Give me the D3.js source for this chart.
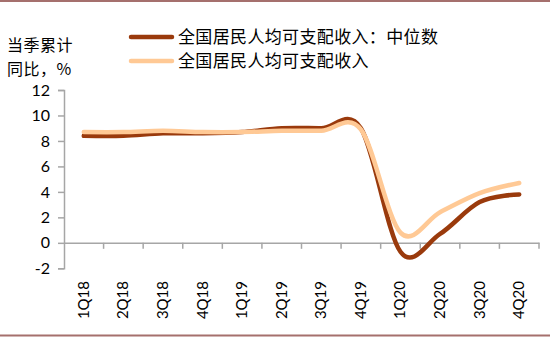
<!DOCTYPE html>
<html><head><meta charset="utf-8">
<script src="https://cdn.jsdelivr.net/npm/d3@7/dist/d3.min.js"></script>
<style>html,body{margin:0;padding:0;background:#fff;}svg{display:block;}</style>
</head><body>
<svg id="c" width="550" height="337"></svg>
<script>
const categories = ["1Q18","2Q18","3Q18","4Q18","1Q19","2Q19","3Q19","4Q19","1Q20","2Q20","3Q20","4Q20"];
const medianIncome = [8.4, 8.4, 8.6, 8.6, 8.7, 9.0, 9.0, 9.0, -0.7, 0.7, 3.2, 3.8];
const meanIncome   = [8.7, 8.7, 8.8, 8.7, 8.7, 8.8, 8.8, 8.9, 0.8, 2.4, 3.9, 4.7];
const yTicks = [-2, 0, 2, 4, 6, 8, 10, 12];
const seriesNames = ["全国居民人均可支配收入：中位数", "全国居民人均可支配收入"];
const seriesColors = ["#9a3a0c", "#ffc995"];
const yTitle = ["当季累计", "同比，%"];

(function(){
const svg = d3.select("#c");
const L = 64, R = 539, T = 90, B = 268.3;
const x = d3.scaleBand().domain(categories).range([L, R]).padding(0);
const y = d3.scaleLinear().domain([-2, 12]).range([B, T]);
const axisColor = "#a6a6a6";
const numFont = "Lato, 'Open Sans', sans-serif";
const cjkFont = "'Noto Sans CJK SC', sans-serif";

// borders
svg.append("rect").attr("x",0).attr("y",0).attr("width",550).attr("height",2).attr("fill","#a5706d");
svg.append("rect").attr("x",0).attr("y",334.5).attr("width",550).attr("height",2).attr("fill","#a5706d");

// y axis
const yAxis = d3.axisLeft(y).tickValues(yTicks).tickSize(6).tickPadding(8).tickFormat(d => String(d));
const gy = svg.append("g").attr("transform", `translate(${L},0)`).call(yAxis);
gy.select(".domain").attr("stroke", axisColor).attr("stroke-width", 1.5);
gy.selectAll(".tick line").attr("stroke", axisColor).attr("stroke-width", 1.5);
gy.selectAll(".tick text").attr("font-family", numFont).attr("font-size", 16).attr("fill", "#000");

// x axis at zero
const xAxis = d3.axisBottom(x).tickSize(0).tickFormat("");
const gx = svg.append("g").attr("transform", `translate(0,${y(0)})`).call(xAxis);
gx.select(".domain").attr("stroke", axisColor).attr("stroke-width", 1.5);
const bounds = categories.map(c => x(c)).concat([R]);
gx.selectAll(".bnd").data(bounds.slice(1)).enter().append("line")
  .attr("x1", d => d).attr("x2", d => d).attr("y1", 0).attr("y2", 6)
  .attr("stroke", axisColor).attr("stroke-width", 1.5);

// x labels (rotated)
svg.append("g").selectAll("text").data(categories).enter().append("text")
  .attr("transform", d => `translate(${x(d) + x.bandwidth()/2 + 5},281) rotate(-90)`)
  .attr("text-anchor", "end")
  .attr("font-family", numFont).attr("font-size", 15).attr("fill", "#000")
  .text(d => d);

// lines
const line = d3.line().x((d,i) => x(categories[i]) + x.bandwidth()/2).y(d => y(d)).curve(d3.curveCardinal.tension(0));
[medianIncome, meanIncome].forEach((s, k) => {
  svg.append("path").datum(s).attr("d", line).attr("fill", "none")
    .attr("stroke", seriesColors[k]).attr("stroke-width", 4.5)
    .attr("stroke-linecap", "round").attr("stroke-linejoin", "round");
});

// y title
yTitle.forEach((t, i) => {
  svg.append("text").attr("x", 7).attr("y", 51 + i*24).attr("font-family", cjkFont)
    .attr("font-size", 16).attr("fill", "#000").attr("letter-spacing", 0.5).text(t);
});

// legend
seriesNames.forEach((n, i) => {
  const ly = 37 + i*24;
  svg.append("line").attr("x1", 131).attr("x2", 172).attr("y1", ly).attr("y2", ly)
    .attr("stroke", seriesColors[i]).attr("stroke-width", 4.5).attr("stroke-linecap", "round");
  svg.append("text").attr("x", 178).attr("y", ly + 6).attr("font-family", cjkFont)
    .attr("font-size", 17).attr("letter-spacing", 0.35).attr("fill", "#000").text(n);
});
})();
</script>
</body></html>
